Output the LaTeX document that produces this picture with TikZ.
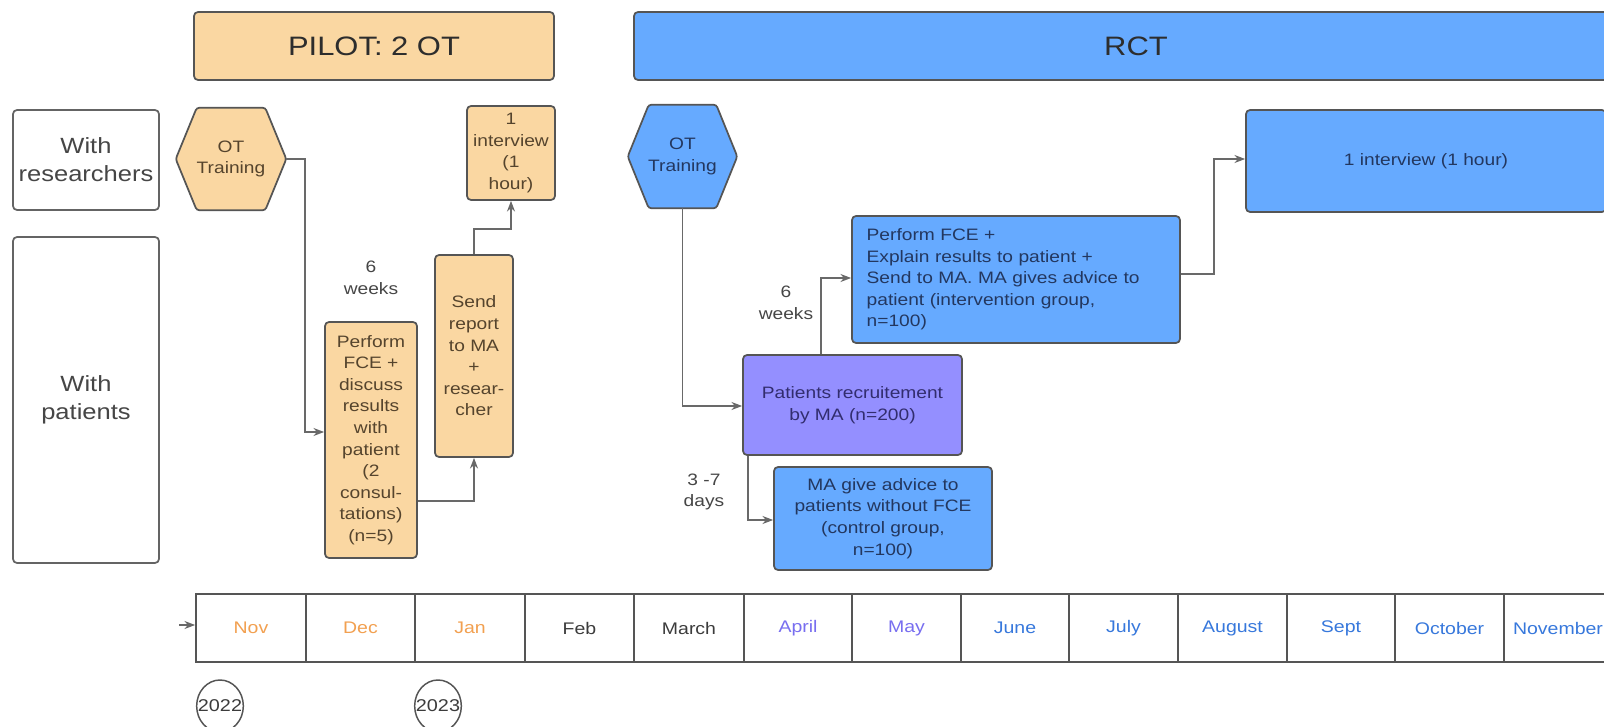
\documentclass[tikz,border=0pt]{standalone}
\usepackage{fontspec}
\setmainfont{Liberation Sans}[FakeStretch=1.16]
\usetikzlibrary{backgrounds,arrows.meta,calc}
\definecolor{orfill}{RGB}{250,215,162}
\definecolor{blfill}{RGB}{102,170,255}
\definecolor{pufill}{RGB}{148,143,255}
\definecolor{bordc}{RGB}{85,85,85}
\definecolor{lbord}{RGB}{100,100,100}
\definecolor{conc}{RGB}{105,105,105}
\definecolor{ortext}{RGB}{85,68,45}
\definecolor{bltext}{RGB}{35,55,95}
\definecolor{putext}{RGB}{50,45,110}
\definecolor{lbtext}{RGB}{70,70,70}
\definecolor{hdtext}{RGB}{45,45,45}
\definecolor{mor}{RGB}{242,160,80}
\definecolor{mpu}{RGB}{120,110,240}
\definecolor{mbl}{RGB}{55,120,220}
\definecolor{mgr}{RGB}{60,60,60}
\begin{document}
\begin{tikzpicture}[x=0.75pt,y=-0.75pt,
  font=\fontsize{12.4}{16.2}\selectfont,
  rect/.style n args={4}{at={({(#1+#3)/2},{(#2+#4)/2})}, minimum width={(#3-#1)*0.75pt}, minimum height={(#4-#2)*0.75pt}},
  box/.style={draw=bordc, line width=1.3pt, rounded corners=3pt, inner sep=0pt, align=center},
  obox/.style={box, fill=orfill, text=ortext},
  bbox/.style={box, fill=blfill, text=bltext},
  pbox/.style={box, fill=pufill, text=putext},
  lbox/.style={box, fill=white, text=lbtext, draw=lbord, font=\fontsize{16.5}{21}\selectfont},
  hdr/.style={box, text=hdtext, font=\fontsize{20}{24}\selectfont},
  hexst/.style={draw=bordc, line width=1.3pt, rounded corners=2pt},
  conn/.style={draw=conc, line width=1.1pt, -{Stealth[length=8pt,width=6pt]}},
  lab/.style={text=lbtext, align=center, inner sep=0pt},
  cell/.style={draw=bordc, line width=1.3pt, inner sep=0pt, font=\fontsize{12.6}{15}\selectfont},
  yr/.style={text=mgr, inner sep=0pt, font=\fontsize{12.8}{15}\selectfont}
]
\useasboundingbox (0,0) rectangle (1604,727);
\clip (0,0) rectangle (1604,727);

% headers
\node[hdr, fill=orfill, rect={194}{12}{554}{80}] (pilot) {PILOT: 2 OT};
\node[hdr, fill=blfill, rect={634}{12}{1638}{80}] (rct) {RCT};

% row labels
\node[lbox, rect={13}{110}{159}{210}] (res) {With\\researchers};
\node[lbox, rect={13}{237}{159}{563}] (pat) {With\\patients};

% hexagon text nodes
\node[lab, text=ortext, rect={176}{108}{286}{210}] (hex1) {OT\\Training};
\node[lab, text=bltext, rect={628}{105}{737}{208}] (hex2) {OT\\Training};

% pilot boxes
\node[obox, rect={467}{106}{555}{200}] (int1) {1\\interview\\(1\\hour)};
\node[obox, rect={435}{255}{513}{457}] (send) {Send\\report\\to MA\\+\\resear-\\cher};
\node[obox, rect={325}{322}{417}{558}] (fce1) {Perform\\FCE +\\discuss\\results\\with\\patient\\(2\\consul-\\tations)\\(n=5)};

% RCT boxes
\node[bbox, rect={852}{216}{1180}{343}, text width=224pt, align=left] (fce2) {Perform FCE +\\Explain results to patient +\\Send to MA. MA gives advice to\\patient (intervention group,\\n=100)};
\node[bbox, rect={1246}{110}{1606}{212}] (int2) {1 interview (1 hour)};
\node[pbox, rect={743}{355}{962}{455}] (recr) {Patients recruitement\\by MA (n=200)};
\node[bbox, rect={774}{467}{992}{570}] (ctrl) {MA give advice to\\patients without FCE\\(control group,\\n=100)};

% labels
\node[lab] (w1) at (371,278) {6\\weeks};
\node[lab] (w2) at (786,303) {6\\weeks};
\node[lab] (d1) at (704,492) {3 -7\\days};

% background: white page and hexagons
\begin{scope}[on background layer]
\fill[white] (0,0) rectangle (1604,727);
\draw[hexst, fill=orfill] (hex1.west) -- ($(hex1.north west)+(21,0)$) -- ($(hex1.north east)+(-21,0)$) -- (hex1.east) -- ($(hex1.south east)+(-21,0)$) -- ($(hex1.south west)+(21,0)$) -- cycle;
\draw[hexst, fill=blfill] (hex2.west) -- ($(hex2.north west)+(21,0)$) -- ($(hex2.north east)+(-21,0)$) -- (hex2.east) -- ($(hex2.south east)+(-21,0)$) -- ($(hex2.south west)+(21,0)$) -- cycle;
\end{scope}

% connectors
\draw[conn] (hex1.east) -- (305,159) |- (fce1.west |- 0,432);
\draw[conn] (fce1.east |- 0,501) -| (send.south);
\draw[conn] (send.north) -- ++(0,-25) -| (int1.south);
\draw[conn] (hex2.south) |- (recr.west |- 0,406);
\draw[conn] (recr.north -| 821,0) |- (fce2.west |- 0,278);
\draw[conn] (recr.south -| 748,0) |- (ctrl.west |- 0,520);
\draw[conn] (fce2.east |- 0,274) -- (1214,274) |- (int2.west |- 0,159);

% timeline
\node[cell, text=mor, rect={196}{594}{306}{662}] (m1) {Nov};
\node[cell, text=mor, rect={306}{594}{415}{662}] (m2) {Dec};
\node[cell, text=mor, rect={415}{594}{525}{662}] (m3) {Jan};
\node[cell, text=mgr, rect={525}{594}{634}{662}] (m4) {Feb};
\node[cell, text=mgr, rect={634}{594}{744}{662}] (m5) {March};
\node[cell, text=mpu, rect={744}{594}{852}{662}] (m6) {April};
\node[cell, text=mpu, rect={852}{594}{961}{662}] (m7) {May};
\node[cell, text=mbl, rect={961}{594}{1069}{662}] (m8) {June};
\node[cell, text=mbl, rect={1069}{594}{1178}{662}] (m9) {July};
\node[cell, text=mbl, rect={1178}{594}{1287}{662}] (m10) {August};
\node[cell, text=mbl, rect={1287}{594}{1395}{662}] (m11) {Sept};
\node[cell, text=mbl, rect={1395}{594}{1504}{662}] (m12) {October};
\node[cell, text=mbl, rect={1504}{594}{1612}{662}] (m13) {November};
\coordinate (tl0) at (179,625);
\draw[conn] (tl0) -- (m1.west |- 0,625);

% years
\node[yr] (y22) at (220,706) {2022};
\node[yr] (y23) at (438,706) {2023};
\draw[draw=bordc, line width=1.1pt] (y22.center) ellipse [x radius=17.5pt, y radius=19.5pt];
\draw[draw=bordc, line width=1.1pt] (y23.center) ellipse [x radius=17.5pt, y radius=19.5pt];
\end{tikzpicture}
\end{document}
